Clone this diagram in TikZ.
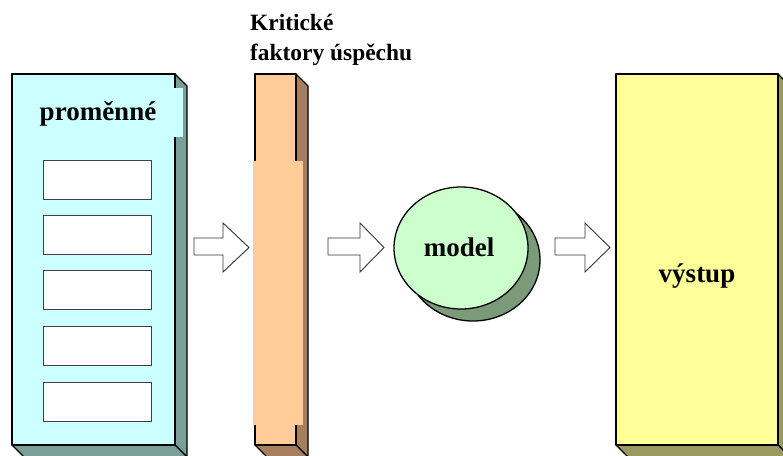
\documentclass[tikz,border=0pt]{standalone}
\usepackage{fontspec}
\setmainfont{Liberation Serif}
\begin{document}
\begin{tikzpicture}[x=1pt,y=-1pt,
  face/.style={draw=black,line width=1.3pt,line join=round},
  depth/.style={draw=black,line width=1.3pt,line join=round},
  slot/.style={draw=black!75,fill=white,line width=1pt},
  blockarrow/.style={draw=black!80,fill=white,line width=0.9pt,line join=miter},
  lbl/.style={font=\bfseries\fontsize{27}{31}\selectfont,inner sep=0pt},
  title/.style={font=\bfseries\fontsize{23.4}{27}\selectfont,inner sep=0pt,anchor=west}]
\useasboundingbox (0,0) rectangle (783,455);
\definecolor{cyanf}{HTML}{CCFFFF}\definecolor{cyans}{HTML}{7A9E98}
\definecolor{orf}{HTML}{FFCC99}\definecolor{ors}{HTML}{A67F5F}
\definecolor{grf}{HTML}{CCFFCC}\definecolor{grs}{HTML}{7A9A7A}
\definecolor{yef}{HTML}{FFFF99}\definecolor{yes}{HTML}{999960}
% left box
\fill[cyans,depth] (175,74) -- (187,86) -- (187,457) -- (175,445) -- cycle;
\fill[cyans,depth] (12,445) -- (24,457) -- (187,457) -- (175,445) -- cycle;
\draw[face,fill=cyanf] (12,74) rectangle (175,445);
\fill[cyanf] (30,88) rectangle (183,137);
\node[lbl] (var) at (98,114) {proměnné};
\foreach \y [count=\i] in {160,215,270,326,382}
  \draw[slot] (43,\y) rectangle (151,\y+39);
% orange column
\fill[ors,depth] (296,74) -- (308,86) -- (308,457) -- (296,445) -- cycle;
\fill[ors,depth] (255,445) -- (267,457) -- (308,457) -- (296,445) -- cycle;
\draw[face,fill=orf] (255,74) rectangle (296,445);
\fill[orf] (253,161) rectangle (303,425);
\node[title] (k1) at (250,22) {Kritické};
\node[title] (k2) at (250,55) {faktory úspěchu};
% model
\draw[face,fill=grs] (473,260) ellipse [x radius=67,y radius=61];
\draw[face,fill=grf] (461,248) ellipse [x radius=67,y radius=61];
\node[lbl] (model) at (459,247) {model};
% output
\fill[yes,depth] (778,74) -- (790,86) -- (790,457) -- (778,445) -- cycle;
\fill[yes,depth] (616,445) -- (628,457) -- (790,457) -- (778,445) -- cycle;
\draw[face,fill=yef] (616,74) rectangle (778,445);
\node[lbl] (out) at (697,276) {výstup};
% block arrows
\foreach \a/\b/\c in {194/223/249,328/360/384,555/585/610}
  \draw[blockarrow] (\a,238) -- (\b,238) -- (\b,223) -- (\c,247.5) -- (\b,272) -- (\b,255) -- (\a,255) -- cycle;
\end{tikzpicture}
\end{document}
